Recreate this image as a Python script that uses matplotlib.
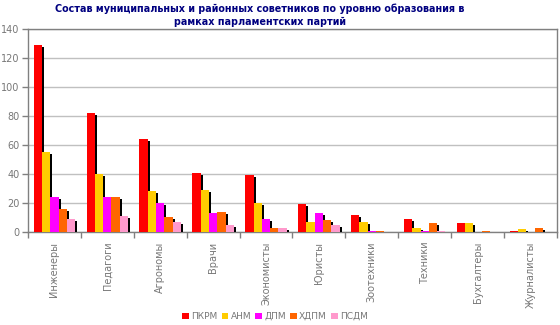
import numpy as np
import matplotlib
matplotlib.use("Agg")
import matplotlib.pyplot as plt
from matplotlib.patches import Patch
from matplotlib.transforms import ScaledTranslation

categories = ["Инженеры", "Педагоги", "Агрономы", "Врачи", "Экономисты",
              "Юристы", "Зоотехники", "Техники", "Бухгалтеры", "Журналисты"]
parties = ["ПКРМ", "АНМ", "ДПМ", "ХДПМ", "ПСДМ"]

pkrm = [129, 82, 64, 41, 39, 19, 12, 9, 6, 1]
anm = [55, 40, 28, 29, 20, 7, 7, 3, 6, 2]
dpm = [24, 24, 20, 13, 9, 13, 1, 1, 0, 0]
hdpm = [16, 24, 10, 14, 3, 8, 1, 6, 1, 3]
psdm = [9, 11, 7, 5, 3, 5, 0, 1, 0, 0]

colors = ["#ff0000", "#ffcc00", "#ff00ff", "#ff6600", "#ff99cc"]
gray = "#808080"
text_gray = "#777777"

fig = plt.figure(figsize=(5.6, 3.25), dpi=100)
ax = fig.add_axes([0.05, 0.2862, 0.9446, 0.6246])

x = np.arange(len(categories))
bw = 0.157
series = [pkrm, anm, dpm, hdpm, psdm]
# black drop shadow, shifted 2 px right and down
shadow_tr = ax.transData + ScaledTranslation(2 / 100, -2 / 100, fig.dpi_scale_trans)

for i, vals in enumerate(series):
    pos = x - 2 * bw + i * bw
    ax.bar(pos, vals, width=bw, color="black", linewidth=0,
           transform=shadow_tr, zorder=3)
    ax.bar(pos, vals, width=bw, color=colors[i], linewidth=0, zorder=3)

ax.set_xlim(-0.5, len(categories) - 0.5)
ax.set_ylim(0, 140)
ax.set_yticks(range(0, 141, 20))
ax.yaxis.grid(True, color="#c0c0c0", linewidth=1)
ax.set_axisbelow(True)

ax.set_xticks(np.arange(-0.5, len(categories), 1.0))
ax.set_xticklabels([])
ax.set_xticks(x, minor=True)
ax.set_xticklabels(categories, minor=True, rotation=90, va="top",
                   fontsize=7, color=text_gray)
ax.tick_params(axis="x", which="minor", length=0, pad=7)
ax.tick_params(axis="x", which="major", length=4, color=gray, width=1)
ax.tick_params(axis="y", length=4, color=gray, width=1, labelsize=7,
               labelcolor=text_gray, pad=2)

for sp in ax.spines.values():
    sp.set_color(gray)
    sp.set_linewidth(1)

fig.text(0.464, 0.988,
         "Состав муниципальных и районных советников по уровню образования в\nрамках парламентских партий",
         ha="center", va="top", fontsize=6.9, fontweight="bold",
         color="#000080", linespacing=1.35)

handles = [Patch(facecolor=c, edgecolor="none") for c in colors]
fig.legend(handles, parties, loc="center", bbox_to_anchor=(0.491, 0.026),
           ncol=5, frameon=False, fontsize=6.5, handlelength=0.75,
           handleheight=0.75, handletextpad=0.25, columnspacing=0.45,
           labelcolor=text_gray, borderpad=0)

fig.savefig("out.png", dpi=100)
